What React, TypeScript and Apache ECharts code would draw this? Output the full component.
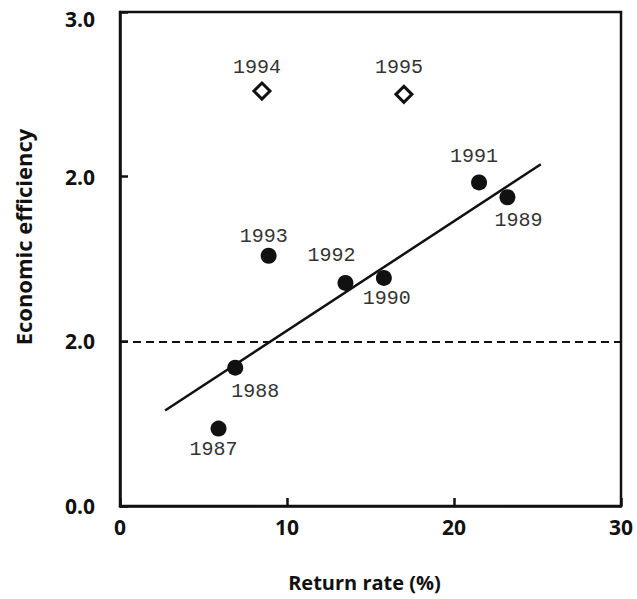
import React, { useEffect, useRef } from "react";
import * as echarts from "echarts";

const years = ["1987", "1988", "1989", "1990", "1991", "1992", "1993"];
const returnRate = [5.9, 6.9, 23.2, 15.8, 21.5, 13.5, 8.9];
const efficiency = [0.47, 0.84, 1.875, 1.385, 1.965, 1.355, 1.52];

const outlierYears = ["1994", "1995"];
const outlierReturn = [8.5, 17.0];
const outlierEff = [2.52, 2.5];

const trendX = [2.7, 25.2];
const trendY = [0.58, 2.075];

const thresholdY = 1;

const xTicks = ["0", "10", "20", "30"];
const yTicks = ["0.0", "2.0", "2.0", "3.0"];

// label offsets (style, not data)
const labelOffsets: Record<string, [number, number]> = {
  "1987": [-5, 21],
  "1988": [20, 24],
  "1989": [11, 23],
  "1990": [3, 21],
  "1991": [-5, -26],
  "1992": [-14, -27],
  "1993": [-5, -19],
  "1994": [-5, -24],
  "1995": [-5, -27],
};

const axisFont = "'Open Sans', sans-serif";
const labelFont = "'Liberation Mono', 'DejaVu Sans Mono', monospace";

export default function App() {
  const ref = useRef<HTMLDivElement>(null);
  useEffect(() => {
    const chart = echarts.init(ref.current!, undefined, { renderer: "svg" });
    const mkLabel = (y: string) => ({
      show: true,
      position: "inside",
      formatter: y,
      offset: labelOffsets[y],
      color: "#333",
      fontFamily: labelFont,
      fontSize: 20,
      fontWeight: "normal",
      align: "center",
      verticalAlign: "middle",
    });
    chart.setOption({
      animation: false,
      backgroundColor: "#fff",
      grid: {
        left: 120,
        right: 16,
        top: 12,
        bottom: 93,
        outerBoundsMode: "none",
        containLabel: false,
        show: true,
        borderColor: "#111",
        borderWidth: 2.5,
        backgroundColor: "transparent",
      },
      xAxis: {
        type: "value",
        min: 0,
        max: 30,
        interval: 10,
        name: "Return rate (%)",
        nameLocation: "middle",
        nameGap: 66,
        nameTextStyle: {
          fontFamily: axisFont,
          fontWeight: "bold",
          fontSize: 20,
          color: "#111",
          padding: [0, 12, 0, 0],
        },
        axisLine: { show: true, lineStyle: { color: "#111", width: 2.5 } },
        axisTick: { show: true, inside: true, length: 8, lineStyle: { color: "#111", width: 2.5 } },
        axisLabel: {
          margin: 10,
          fontFamily: axisFont,
          fontWeight: "bold",
          fontSize: 21,
          color: "#111",
          formatter: (v: number) => xTicks[Math.round(v / 10)] ?? "",
        },
        splitLine: { show: false },
      },
      yAxis: {
        type: "value",
        min: 0,
        max: 3,
        interval: 1,
        name: "Economic efficiency",
        nameLocation: "middle",
        nameGap: 86,
        nameRotate: 90,
        nameTextStyle: {
          fontFamily: axisFont,
          fontWeight: "bold",
          fontSize: 22,
          color: "#111",
          padding: [0, 0, 0, 44],
        },
        axisLine: { show: true, lineStyle: { color: "#111", width: 2.5 } },
        axisTick: { show: true, inside: true, length: 8, lineStyle: { color: "#111", width: 2.5 } },
        axisLabel: {
          margin: 25,
          fontFamily: axisFont,
          fontWeight: "bold",
          fontSize: 21,
          lineHeight: 14,
          color: "#111",
          verticalAlignMaxLabel: "top",
          formatter: (v: number) => yTicks[Math.round(v)] ?? "",
        },
        splitLine: { show: false },
      },
      series: [
        {
          type: "line",
          data: trendX.map((x, i) => [x, trendY[i]]),
          symbol: "none",
          lineStyle: { color: "#111", width: 2.5 },
          silent: true,
          z: 2,
          markLine: {
            silent: true,
            symbol: "none",
            label: { show: false },
            lineStyle: { color: "#111", width: 2, type: [8, 5] },
            data: [{ yAxis: thresholdY }],
          },
        },
        {
          type: "scatter",
          symbol: "circle",
          symbolSize: 16,
          itemStyle: { color: "#111", opacity: 1 },
          z: 3,
          data: years.map((y, i) => ({
            value: [returnRate[i], efficiency[i]],
            label: mkLabel(y),
          })),
        },
        {
          type: "scatter",
          symbol: "diamond",
          symbolSize: 16,
          itemStyle: { color: "#fff", borderColor: "#111", borderWidth: 3, opacity: 1 },
          z: 3,
          data: outlierYears.map((y, i) => ({
            value: [outlierReturn[i], outlierEff[i]],
            label: mkLabel(y),
          })),
        },
      ],
    });
    return () => chart.dispose();
  }, []);
  return (
    <div
      ref={ref}
      style={{ position: "absolute", left: 0, top: 0, width: 637, height: 599 }}
    />
  );
}
